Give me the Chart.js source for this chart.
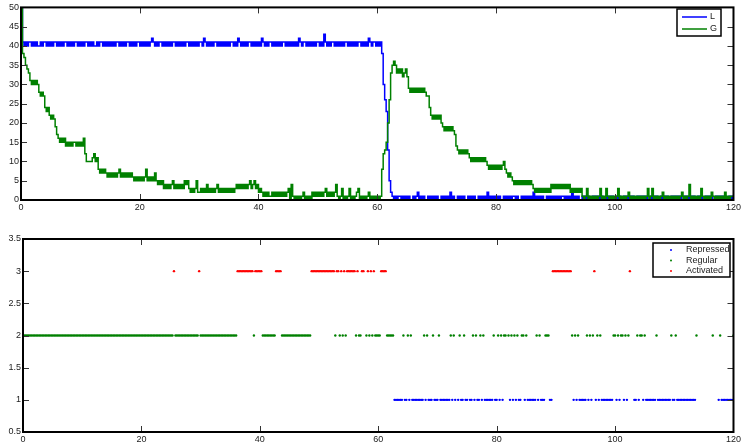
<!DOCTYPE html>
<html>
<head>
<meta charset="utf-8">
<script src="https://cdn.jsdelivr.net/npm/chart.js@4.4.1/dist/chart.umd.min.js"></script>
<style>
  html, body { margin: 0; padding: 0; background: #fff; }
  #wrap { position: relative; width: 743px; height: 445px; }
  canvas { position: absolute; left: 0; }
  #top { top: 0; }
  #bottom { top: 225px; }
</style>
</head>
<body>
<div id="wrap">
  <canvas id="top" width="743" height="220"></canvas>
  <canvas id="bottom" width="743" height="220"></canvas>
</div>
<script>
// simulation output, one sample every STEP time units (t = 0 .. 120)
const STEP = 0.25;

// L molecule count
const L = [
  50,41,40,41,40,41,41,40,41,40,41,40,40,41,40,41,41,40,41,40,
  41,40,41,41,40,41,40,41,40,41,41,40,41,40,41,40,41,41,40,41,
  40,41,40,41,41,40,41,40,41,40,40,41,40,41,41,40,41,40,41,40,
  41,40,41,40,41,41,40,41,40,41,40,41,41,40,41,40,41,40,41,41,
  40,41,40,41,40,41,40,41,42,41,40,41,40,41,41,40,41,40,41,40,
  41,40,41,41,40,41,40,41,40,41,40,41,41,40,41,40,41,40,41,40,
  41,41,40,42,41,40,41,40,41,40,41,41,40,41,40,41,40,41,40,41,
  40,41,41,40,41,40,42,41,40,41,40,41,40,41,41,40,41,40,41,40,
  41,40,42,41,40,41,40,41,41,40,41,40,41,40,41,40,41,41,40,41,
  40,41,40,41,40,41,40,42,41,40,41,41,40,41,40,41,40,41,40,41,
  41,40,41,40,43,41,40,41,40,41,41,40,41,40,41,40,41,40,41,41,
  40,41,40,41,40,41,40,41,41,40,41,40,41,40,42,41,40,41,41,40,
  41,40,41,38,30,26,23,13,5,2,1,0,1,0,1,1,0,1,0,1,
  0,1,0,0,1,0,1,2,0,1,0,1,0,0,1,0,1,0,1,0,
  1,0,0,1,0,1,0,1,0,2,0,1,0,0,1,0,1,0,1,0,
  0,1,0,1,0,1,0,0,1,0,1,0,1,0,2,0,1,0,1,0,
  1,0,1,0,0,1,0,1,0,1,0,1,1,0,1,0,0,1,0,1,
  0,1,0,1,0,2,0,1,0,1,0,1,0,0,1,0,1,0,1,0,
  1,0,1,0,1,1,0,1,0,1,0,2,0,1,0,1,0,0,1,0,
  1,0,1,0,0,1,0,1,0,1,0,1,0,0,1,0,1,0,1,0,
  0,1,0,1,0,0,1,0,1,0,1,0,1,0,0,1,0,1,0,1,
  0,1,0,0,1,0,1,0,1,0,0,1,0,1,0,1,0,0,1,0,
  1,0,1,0,1,0,0,1,0,1,0,1,0,1,0,0,1,0,1,0,
  0,1,0,1,0,1,0,0,1,0,1,0,1,0,1,0,0,1,0,1,
  0
];

// G molecule count
const G = [
  50,38,37,35,34,33,31,30,31,30,31,30,28,27,28,27,24,23,24,22,
  21,22,21,19,17,16,15,16,15,16,14,15,14,15,14,15,15,14,15,14,
  15,14,16,12,10,10,10,10,11,12,10,11,8,7,8,7,8,7,6,7,
  6,7,6,7,6,7,8,6,7,6,7,6,7,6,7,6,5,6,5,6,
  5,6,5,6,8,5,6,5,6,5,7,5,4,5,4,5,3,4,3,4,
  3,4,5,3,4,3,4,3,4,3,5,4,5,3,2,3,2,3,5,2,
  2,3,2,3,2,4,2,3,2,3,2,3,4,2,3,2,3,2,3,2,
  3,2,3,2,3,4,3,4,3,4,3,4,3,4,5,3,4,5,3,4,
  2,3,2,1,2,1,2,1,1,2,1,2,1,2,1,2,1,2,1,2,
  3,0,4,1,0,1,0,1,0,1,2,0,1,0,1,0,2,1,2,1,
  2,1,2,1,2,3,1,2,1,2,1,2,4,1,0,1,3,0,1,0,
  1,3,0,1,0,1,2,3,0,1,0,1,0,1,2,0,1,0,1,0,
  1,0,1,8,12,13,15,20,26,33,35,36,35,33,34,33,34,32,33,34,
  32,29,28,29,28,29,28,29,28,29,28,29,28,27,27,24,22,21,22,21,
  22,21,22,20,19,18,19,18,19,18,19,18,17,14,13,12,13,12,13,12,
  13,12,11,10,11,10,11,10,11,10,11,10,11,10,9,8,9,8,9,8,
  9,8,9,8,9,10,8,7,6,7,6,5,4,5,4,5,4,5,4,5,
  4,5,4,5,4,3,2,3,2,3,2,3,2,3,2,3,2,4,3,4,
  3,4,3,4,3,4,3,4,3,4,2,3,2,3,2,3,2,3,1,0,
  1,3,0,1,0,1,0,1,0,1,3,0,1,0,3,1,0,1,0,1,
  0,1,3,0,1,0,1,0,1,2,0,1,0,1,0,1,0,1,0,1,
  0,1,3,0,1,3,0,1,0,1,0,1,2,0,1,0,1,0,1,0,
  1,0,1,0,1,2,0,1,0,1,4,0,1,0,1,0,1,0,3,1,
  0,1,0,1,0,2,1,0,1,0,1,0,1,0,2,0,1,0,1,1,
  1
];

// regulatory state per sample: 1 = repressed, 2 = regular, 3 = activated, 0 = no sample
const state = [
  2,2,2,2,2,2,2,2,2,2,2,2,2,2,2,2,2,2,2,2,
  2,2,2,2,2,2,2,2,2,2,2,2,2,2,2,2,2,2,2,2,
  2,2,2,2,2,2,2,2,2,2,2,2,2,2,2,2,2,2,2,2,
  2,2,2,2,2,2,2,2,2,2,2,2,2,2,2,2,2,2,2,2,
  2,2,2,2,2,2,2,2,2,2,2,2,2,2,2,2,2,2,2,2,
  2,2,3,2,2,2,2,2,2,2,2,2,2,2,2,2,2,2,2,3,
  2,2,2,2,2,2,2,2,2,2,2,2,2,2,2,2,2,2,2,2,
  2,2,2,2,2,3,3,3,3,3,3,3,3,3,3,3,2,3,3,3,
  3,3,2,2,2,2,2,2,2,2,2,3,3,3,3,2,2,2,2,2,
  2,2,2,2,2,2,2,2,2,2,2,2,2,2,2,3,3,3,3,3,
  3,3,3,3,3,3,3,3,3,3,3,2,3,3,2,3,2,3,2,3,
  3,3,3,3,3,2,3,2,2,3,3,0,2,3,2,3,2,3,2,2,
  2,2,3,3,3,3,2,2,2,2,2,1,1,1,1,1,1,2,1,1,
  2,1,2,1,1,1,1,1,1,1,1,2,1,2,1,1,1,2,1,1,
  1,2,1,1,1,1,1,1,1,2,1,2,1,0,1,2,1,1,2,1,
  1,0,1,1,2,1,2,1,1,2,1,2,1,1,1,1,1,1,2,1,
  1,2,1,2,1,2,2,0,2,1,2,1,2,1,2,1,1,2,2,1,
  2,1,1,1,1,1,1,2,1,2,1,1,1,2,2,2,1,1,3,3,
  3,3,3,3,3,3,3,3,3,3,3,2,1,2,1,2,1,1,1,1,
  1,2,1,2,1,2,3,1,2,1,2,1,1,1,1,1,1,1,1,2,
  2,1,2,1,2,2,1,2,1,2,3,0,0,1,1,2,1,2,2,1,
  2,1,1,1,1,1,1,1,2,1,1,1,1,1,1,1,1,1,2,1,
  1,2,1,1,1,1,1,1,1,1,1,1,1,1,1,2,0,0,0,0,
  0,0,0,0,0,0,2,0,0,0,1,2,1,1,1,1,1,1,1,1,
  2
];

const stateNames = ['Repressed', 'Regular', 'Activated'];
const stateColors = ['#0000ff', '#008000', '#ff0000'];
const seriesNames = ['L', 'G'];
const seriesColors = ['#0000ff', '#008000'];

const time = L.map((_, i) => i * STEP);
const FONT = { family: '"Liberation Sans", Arial, Helvetica, sans-serif', size: 9 };
const TEXT = '#222';

// boxed axes with inward tick marks on all four sides
const boxAxes = {
  id: 'boxAxes',
  afterDatasetsDraw(chart) {
    const { ctx, chartArea: a, scales } = chart;
    const len = 6;
    ctx.save();
    ctx.strokeStyle = '#333';
    ctx.lineWidth = 1;
    ctx.beginPath();
    scales.x.ticks.forEach(t => {
      const px = Math.round(scales.x.getPixelForValue(t.value)) + 0.5;
      ctx.moveTo(px, a.top); ctx.lineTo(px, a.top + len);
      ctx.moveTo(px, a.bottom); ctx.lineTo(px, a.bottom - len);
    });
    scales.y.ticks.forEach(t => {
      const py = Math.round(scales.y.getPixelForValue(t.value)) + 0.5;
      ctx.moveTo(a.left, py); ctx.lineTo(a.left + len, py);
      ctx.moveTo(a.right, py); ctx.lineTo(a.right - len, py);
    });
    ctx.stroke();
    ctx.strokeStyle = '#000';
    ctx.lineWidth = 2;
    ctx.strokeRect(a.left, a.top, a.right - a.left, a.bottom - a.top);
    ctx.restore();
  }
};

// framed legend in the upper right corner
function boxLegend(labels, colors, kind, g) {
  return {
    id: 'boxLegend',
    afterDraw(chart) {
      const { ctx } = chart;
      ctx.save();
      ctx.fillStyle = '#fff';
      ctx.fillRect(g.x, g.y, g.w, g.h);
      ctx.strokeStyle = '#000';
      ctx.lineWidth = 1.5;
      ctx.strokeRect(g.x, g.y, g.w, g.h);
      ctx.font = '9px ' + FONT.family;
      ctx.textBaseline = 'middle';
      labels.forEach((label, i) => {
        const cy = g.y + g.first + i * g.row;
        if (kind === 'line') {
          ctx.strokeStyle = colors[i];
          ctx.lineWidth = 1.5;
          ctx.beginPath();
          ctx.moveTo(g.x + g.markX, cy);
          ctx.lineTo(g.x + g.markX + 25, cy);
          ctx.stroke();
        } else {
          ctx.fillStyle = colors[i];
          ctx.beginPath();
          ctx.arc(g.x + g.markX, cy, 1, 0, Math.PI * 2);
          ctx.fill();
        }
        ctx.fillStyle = TEXT;
        ctx.fillText(label, g.x + g.textX, cy);
      });
      ctx.restore();
    }
  };
}

function axis(min, max, step, fit) {
  return {
    type: 'linear', min, max,
    grid: { display: false, drawTicks: false },
    border: { display: false },
    ticks: { stepSize: step, autoSkip: false, maxRotation: 0, font: FONT, color: TEXT, padding: 2,
             callback: v => String(v) },
    afterFit: fit
  };
}

new Chart(document.getElementById('top'), {
  type: 'line',
  data: {
    datasets: [L, G].map((vals, k) => ({
      label: seriesNames[k],
      data: vals.map((v, i) => ({ x: time[i], y: v })),
      borderColor: seriesColors[k],
      borderWidth: 1.5,
      pointRadius: 0,
      stepped: true,
      order: 1 - k
    }))
  },
  options: {
    responsive: false,
    animation: false,
    events: [],
    parsing: false,
    layout: { padding: { top: 7, right: 8, left: 0, bottom: 0 } },
    scales: {
      x: axis(0, 120, 20, s => { s.height = 20; }),
      y: axis(0, 50, 5, s => { s.width = 21; })
    },
    plugins: { legend: { display: false }, tooltip: { enabled: false } }
  },
  plugins: [boxAxes, boxLegend(seriesNames, seriesColors, 'line',
    { x: 677, y: 9, w: 44, h: 27, first: 8, row: 12, markX: 5, textX: 33 })]
});

new Chart(document.getElementById('bottom'), {
  type: 'scatter',
  data: {
    datasets: stateNames.map((name, k) => ({
      label: name,
      data: time.filter((t, i) => state[i] === k + 1).map(t => ({ x: t, y: k + 1 })),
      backgroundColor: stateColors[k],
      borderWidth: 0,
      pointRadius: 1.2
    }))
  },
  options: {
    responsive: false,
    animation: false,
    events: [],
    parsing: false,
    layout: { padding: { top: 14, right: 9, left: 0, bottom: 0 } },
    scales: {
      x: axis(0, 120, 20, s => { s.height = 13; }),
      y: axis(0.5, 3.5, 0.5, s => { s.width = 23; })
    },
    plugins: { legend: { display: false }, tooltip: { enabled: false } }
  },
  plugins: [boxAxes, boxLegend(stateNames, stateColors, 'dot',
    { x: 653, y: 18, w: 77, h: 34, first: 7, row: 10.5, markX: 18, textX: 33 })]
});
</script>
</body>
</html>
